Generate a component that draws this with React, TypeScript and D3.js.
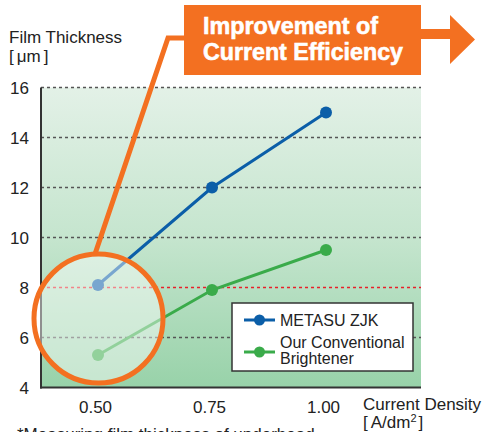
import React from "react";
import * as d3 from "d3";

const currentDensity = [0.5, 0.75, 1.0];
const xTickLabels = ["0.50", "0.75", "1.00"];
const yTicks = [4, 6, 8, 10, 12, 14, 16];
const metasu = [8.1, 12.0, 15.0];
const conventional = [5.3, 7.9, 9.5];
const seriesNames = ["METASU ZJK", "Our Conventional", "Brightener"];

const W = 482;
const H = 432;
const left = 41;
const right = 421;
const top = 87.5;
const bottom = 387.5;

const BLUE = "#0b5ea8";
const GREEN = "#3aab4a";
const ORANGE = "#f37021";
const FONT = "'Liberation Sans', Arial, Helvetica, sans-serif";

export default function App() {
  const x = d3.scaleLinear().domain([0.5, 1.0]).range([98, 326]);
  const y = d3.scaleLinear().domain([4, 16]).range([bottom, top]);
  const line = d3
    .line<[number, number]>()
    .x((d) => x(d[0]))
    .y((d) => y(d[1]));
  const blueData = currentDensity.map((c, i) => [c, metasu[i]] as [number, number]);
  const greenData = currentDensity.map((c, i) => [c, conventional[i]] as [number, number]);

  const cx = 98.5;
  const cy = 318.5;
  const r = 64.5;

  return (
    <svg
      width={W}
      height={H}
      style={{ position: "absolute", left: 0, top: 0 }}
      fontFamily={FONT}
    >
      <defs>
        <linearGradient id="bg" x1="0" y1="0" x2="0" y2="1">
          <stop offset="0%" stopColor="#e3f1e7" />
          <stop offset="50%" stopColor="#c5e5ce" />
          <stop offset="100%" stopColor="#98d2a9" />
        </linearGradient>
      </defs>
      <rect x={0} y={0} width={W} height={H} fill="#fff" />
      <rect x={left} y={top} width={right - left} height={bottom - top} fill="url(#bg)" />

      {yTicks
        .filter((t) => t !== 4)
        .map((t) => (
          <line
            key={t}
            x1={left}
            x2={right}
            y1={y(t)}
            y2={y(t)}
            stroke={t === 8 ? "#e8202a" : "#555"}
            strokeWidth={1.6}
            strokeDasharray="3 3"
          />
        ))}

      <line x1={left} x2={left} y1={top} y2={bottom + 1} stroke="#333" strokeWidth={2} />
      <line x1={left - 1} x2={right} y1={bottom} y2={bottom} stroke="#333" strokeWidth={2} />

      {yTicks.map((t) => (
        <text key={t} x={29} y={y(t) + 6} textAnchor="end" fontSize={17} fill="#222">
          {t}
        </text>
      ))}
      {currentDensity.map((c, i) => (
        <text key={c} x={x(c) - 2.5} y={413} textAnchor="middle" fontSize={17} fill="#222">
          {xTickLabels[i]}
        </text>
      ))}

      <path d={line(blueData) || ""} fill="none" stroke={BLUE} strokeWidth={3} />
      <path d={line(greenData) || ""} fill="none" stroke={GREEN} strokeWidth={3} />
      {blueData.map((d, i) => (
        <circle key={"b" + i} cx={x(d[0])} cy={y(d[1])} r={6} fill={BLUE} />
      ))}
      {greenData.map((d, i) => (
        <circle key={"g" + i} cx={x(d[0])} cy={y(d[1])} r={6} fill={GREEN} />
      ))}

      <circle cx={cx} cy={cy} r={r} fill="#fff" fillOpacity={0.45} />
      <circle cx={cx} cy={cy} r={r} fill="none" stroke={ORANGE} strokeWidth={5} />
      <polyline
        points={`95,${cy - r} 168,38 186,38`}
        fill="none"
        stroke={ORANGE}
        strokeWidth={5}
      />

      <rect x={184} y={5} width={237} height={70} fill={ORANGE} />
      <polygon
        points="420,29 450,29 450,15 475,39.5 450,64 450,39 420,39"
        fill={ORANGE}
      />
      <text
        x={203}
        y={33.5}
        fontSize={23.5}
        fontWeight="bold"
        fill="#fff"
        stroke="#fff"
        strokeWidth={0.6}
        fontFamily="'Liberation Sans Narrow', 'Liberation Sans', Arial, sans-serif"
        textLength={175}
        lengthAdjust="spacingAndGlyphs"
      >
        Improvement of
      </text>
      <text
        x={203}
        y={60}
        fontSize={23.5}
        fontWeight="bold"
        fill="#fff"
        stroke="#fff"
        strokeWidth={0.6}
        fontFamily="'Liberation Sans Narrow', 'Liberation Sans', Arial, sans-serif"
        textLength={200}
        lengthAdjust="spacingAndGlyphs"
      >
        Current Efficiency
      </text>

      <text x={9} y={43} fontSize={17} fill="#222">Film Thickness</text>
      <text x={9} y={62} fontSize={17} fill="#222">
        [<tspan dx={3}>μm</tspan>
        <tspan dx={3}>]</tspan>
      </text>

      <text x={363} y={410} fontSize={17} fill="#222">Current Density</text>
      <text x={363} y={428} fontSize={17} fill="#222">
        [<tspan dx={3}>A/dm</tspan>
        <tspan fontSize={11} dy={-6}>2</tspan>
        <tspan dy={6} dx={2}>]</tspan>
      </text>
      <text x={17} y={440} fontSize={17} fill="#222">*Measuring film thickness of underhead</text>

      <rect x={232} y={303} width={181} height={68} fill="#fff" stroke="#333" strokeWidth={1.5} />
      <line x1={244} x2={275} y1={320} y2={320} stroke={BLUE} strokeWidth={3} />
      <circle cx={259.5} cy={320} r={5.5} fill={BLUE} />
      <line x1={244} x2={275} y1={352} y2={352} stroke={GREEN} strokeWidth={3} />
      <circle cx={259.5} cy={352} r={5.5} fill={GREEN} />
      <text x={280} y={326} fontSize={16} fill="#222">{seriesNames[0]}</text>
      <text x={280} y={348} fontSize={16} fill="#222">{seriesNames[1]}</text>
      <text x={280} y={364} fontSize={16} fill="#222">{seriesNames[2]}</text>
    </svg>
  );
}
